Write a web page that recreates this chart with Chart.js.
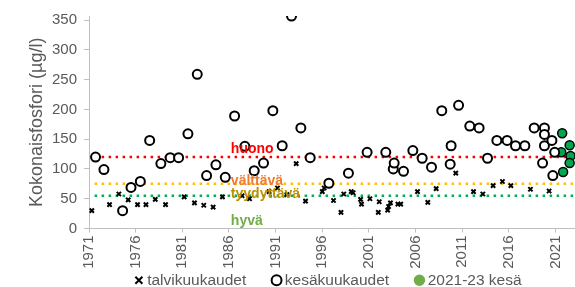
<!DOCTYPE html>
<html>
<head>
<meta charset="utf-8">
<script src="https://cdn.jsdelivr.net/npm/chart.js@4/dist/chart.umd.min.js"></script>
<style>
  html, body { margin: 0; padding: 0; background: #fff; overflow: hidden; }
  /* alkuperäinen kuva on rajattu oikealta ja alhaalta, siksi kangas on isompi kuin näkymä */
  #wrap { width: 575px; height: 287px; overflow: hidden; }
  #inner { width: 634px; height: 298px; }
</style>
</head>
<body>
<div id="wrap"><div id="inner"><canvas id="kuvaaja"></canvas></div></div>
<script>
// Talvikuukaudet (x = vuosi, y = µg/l)
const talviVuodet = [1971.3, 1973.2, 1974.2, 1975.2, 1976.2, 1977.1, 1978.1, 1979.2, 1981.2, 1982.3,
  1983.3, 1984.3, 1985.3, 1987.4, 1988.2, 1990.3, 1991.2, 1992.2, 1993.2, 1994.2,
  1996.0, 1996.2, 1997.2, 1998.0, 1998.3, 1999.1, 1999.3, 2000.1, 2000.2, 2001.1,
  2002.0, 2002.1, 2003.0, 2003.1, 2003.3, 2004.1, 2004.4, 2006.2, 2007.3, 2008.2,
  2010.3, 2012.2, 2013.2, 2014.3, 2015.3, 2016.2, 2018.3, 2020.3];
const talviArvot = [30, 40, 58, 48, 40, 40, 49, 40, 53, 43,
  39, 36, 53, 55, 50, 62, 68, 57, 109, 46,
  62, 68, 47, 27, 58, 62, 60, 49, 41, 50,
  27, 45, 31, 37, 43, 41, 41, 62, 44, 67,
  93, 62, 58, 72, 79, 72, 66, 63];

// Kesäkuukaudet
const kesaVuodet = [1971.7, 1972.6, 1974.6, 1975.5, 1976.5, 1977.5, 1978.7, 1979.7, 1980.6, 1981.6,
  1982.6, 1983.6, 1984.6, 1985.6, 1986.6, 1987.7, 1988.7, 1989.7, 1990.7, 1991.7,
  1992.7, 1993.7, 1994.7, 1996.7, 1998.8, 2000.8, 2002.8, 2003.6, 2003.7, 2004.7,
  2005.7, 2006.7, 2007.7, 2008.8, 2009.7, 2009.8, 2010.6, 2011.8, 2012.8, 2013.7,
  2014.7, 2015.8, 2016.7, 2017.7, 2018.7, 2019.6, 2019.8, 2019.8, 2019.8, 2020.6,
  2020.7, 2020.9];
const kesaArvot = [120, 99, 30, 69, 79, 148, 109, 119, 119, 159,
  259, 89, 107, 86, 189, 138, 97, 110, 198, 139,
  357, 169, 119, 76, 93, 128, 128, 100, 110, 96,
  131, 118, 103, 198, 108, 139, 207, 172, 169, 118,
  148, 148, 139, 139, 169, 110, 169, 158, 139, 148,
  89, 128];

// 2021-23 kesä
const uudetVuodet = [2021.6, 2021.7, 2021.8, 2022.5, 2022.6, 2022.5];
const uudetArvot = [128, 160, 95, 140, 122, 110];

// Luokkarajat
const rajaNimet = ['huono', 'välttävä', 'tyydyttävä'];
const rajaArvot = [120, 75, 55];
const rajaVarit = ['#ff0000', '#ffc000', '#00b050'];

// Luokkien tekstit kuvaajan sisällä
const luokkaTekstit = ['huono', 'välttävä', 'tyydyttävä', 'hyvä'];
const luokkaTekstiArvot = [133, 79, 57, 13];
const luokkaTekstiVarit = ['#ff0000', '#ed7d31', '#bf9000', '#70ad47'];
const luokkaTekstiVuosi = 1986.2;

// x-akselin jaotus
const vuosiTikit = [1971, 1976, 1981, 1986, 1991, 1996, 2001, 2006, 2011, 2016, 2021, 2026];
const xAlku = 1971, xLoppu = 2028.7, viivaAlku = 1971.6;

function pisteet(xs, ys) {
  return xs.map((x, i) => ({ x: x, y: ys[i] }));
}

const harmaa = '#595959';
const fontti = 'Liberation Sans, Arial, sans-serif';

// Luokkien tekstit
const luokkaPlugin = {
  id: 'luokkaTekstit',
  afterDatasetsDraw(chart) {
    const ctx = chart.ctx;
    const xs = chart.scales.x, ys = chart.scales.y;
    ctx.save();
    ctx.font = 'bold 14px ' + fontti;
    ctx.textAlign = 'left';
    ctx.textBaseline = 'middle';
    luokkaTekstit.forEach((t, i) => {
      ctx.fillStyle = luokkaTekstiVarit[i];
      ctx.fillText(t, xs.getPixelForValue(luokkaTekstiVuosi), ys.getPixelForValue(luokkaTekstiArvot[i]));
    });
    ctx.restore();
  }
};

const datasets = [
  {
    label: 'talvikuukaudet',
    data: pisteet(talviVuodet, talviArvot),
    pointStyle: 'crossRot',
    pointRadius: 3,
    pointBorderWidth: 2,
    borderColor: '#000',
    backgroundColor: '#000',
    showLine: false
  },
  {
    label: 'kesäkuukaudet',
    data: pisteet(kesaVuodet, kesaArvot),
    pointStyle: 'circle',
    pointRadius: 4.5,
    pointBorderWidth: 2,
    borderColor: '#000',
    backgroundColor: '#fff',
    showLine: false
  },
  {
    label: '2021-23 kesä',
    data: pisteet(uudetVuodet, uudetArvot),
    pointStyle: 'circle',
    pointRadius: 4.5,
    pointBorderWidth: 1.5,
    borderColor: '#000',
    backgroundColor: '#00a650',
    showLine: false
  }
];

rajaArvot.forEach((v, i) => {
  datasets.push({
    label: rajaNimet[i],
    type: 'line',
    data: [{ x: viivaAlku, y: v }, { x: xLoppu, y: v }],
    borderColor: rajaVarit[i],
    borderWidth: 2.5,
    borderDash: [2.5, 4.5],
    pointRadius: 0,
    fill: false,
    raja: true
  });
});

const ctx = document.getElementById('kuvaaja').getContext('2d');
const kuvaaja = new Chart(ctx, {
  type: 'scatter',
  data: { datasets: datasets },
  plugins: [luokkaPlugin],
  options: {
    responsive: true,
    maintainAspectRatio: false,
    animation: false,
    layout: { padding: { left: 26, right: 0, top: 15, bottom: 0 } },
    plugins: {
      tooltip: { enabled: false },
      legend: {
        position: 'bottom',
        labels: {
          usePointStyle: true,
          boxHeight: 7,
          boxWidth: 1,
          color: harmaa,
          font: { family: fontti, size: 15.5 },
          padding: 4,
          filter: (item, data) => !data.datasets[item.datasetIndex].raja,
          generateLabels(chart) {
            const items = Chart.defaults.plugins.legend.labels.generateLabels(chart);
            items.forEach(it => {
              // väli selitteiden välille
              if (it.datasetIndex < 2) it.text = it.text + '      ';
              if (it.datasetIndex === 2) {
                it.fillStyle = '#70ad47';
                it.strokeStyle = '#70ad47';
              }
            });
            return items;
          }
        }
      }
    },
    scales: {
      x: {
        type: 'linear',
        min: xAlku,
        max: xLoppu,
        border: { color: '#bfbfbf' },
        grid: { drawOnChartArea: false, drawTicks: true, tickLength: 4, color: '#bfbfbf' },
        afterBuildTicks(scale) { scale.ticks = vuosiTikit.map(v => ({ value: v })); },
        ticks: {
          autoSkip: false,
          minRotation: 90,
          maxRotation: 90,
          padding: 3,
          color: harmaa,
          font: { family: fontti, size: 15 },
          callback: v => String(v)
        },
        afterFit(scale) { scale.height = 40; }
      },
      y: {
        min: 0,
        max: 357,
        border: { color: '#bfbfbf' },
        grid: { drawOnChartArea: false, drawTicks: true, tickLength: 5, color: '#bfbfbf' },
        ticks: {
          stepSize: 50,
          includeBounds: false,
          padding: 7,
          color: harmaa,
          font: { family: fontti, size: 15 }
        },
        title: {
          display: true,
          text: 'Kokonaisfosfori (µg/l)',
          color: harmaa,
          font: { family: fontti, size: 18 },
          padding: { top: 0, bottom: 4 }
        },
        afterFit(scale) { scale.width = 63; }
      }
    }
  }
});
</script>
</body>
</html>
